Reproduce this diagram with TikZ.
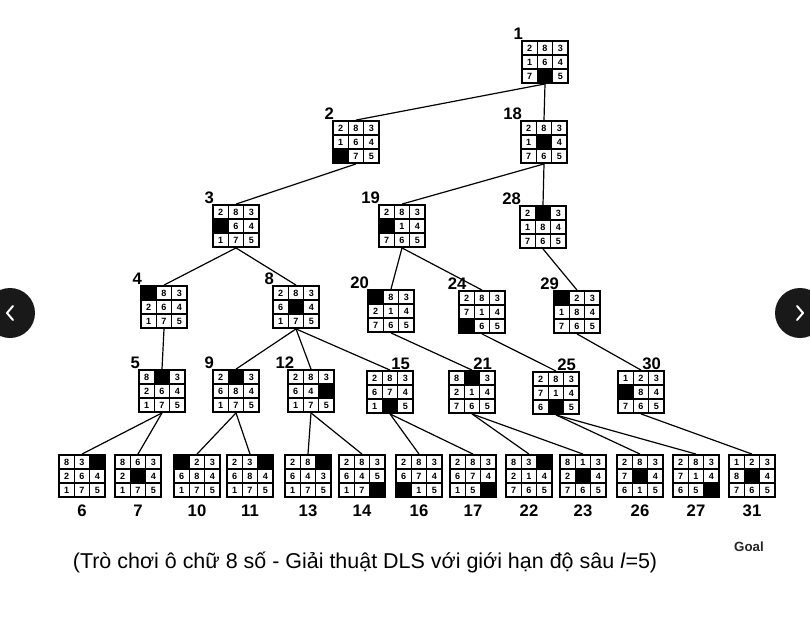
\documentclass[tikz,border=0pt]{standalone}
\usepackage{fontspec}
\setmainfont{Liberation Sans}
\usetikzlibrary{positioning, calc}

\newcommand{\tilefont}{\fontsize{6.8}{7}\selectfont\bfseries}
\newcommand{\numfont}{\fontsize{12.5}{14}\selectfont\bfseries}

% one 8-puzzle board: [extra options]{name}{position}{tiles, 0 = blank}
\newcommand{\puzzle}[4][]{%
  \node[board, #1] (#2) at (#3) {};
  \foreach \v [count=\k from 0] in {#4} {
    \pgfmathtruncatemacro{\tr}{div(\k,3)}
    \pgfmathtruncatemacro{\tc}{mod(\k,3)}
    \ifnum\v=0
      \node[hole, xshift={(\tc-1)*11.5pt}, yshift={(1-\tr)*10.5pt}] at (#2) {};
    \else
      \node[cell, xshift={(\tc-1)*11.5pt}, yshift={(1-\tr)*10.5pt}] at (#2) {\v};
    \fi
  }%
}

\begin{document}
\begin{tikzpicture}[
x=0.75pt, y=-0.75pt,
board/.style={draw, line width=1.4pt, fill=white, minimum width=34.5pt, minimum height=31.5pt, inner sep=0pt},
cell/.style={draw, line width=0.9pt, minimum width=11.5pt, minimum height=10.5pt, inner sep=0pt, font=\tilefont},
hole/.style={cell, fill=black},
lbl/.style={font=\numfont, inner sep=0pt},
rlbl/.style={lbl, xshift=8pt},
blbl/.style={lbl, yshift=-5pt},
edge/.style={line width=0.9pt}
]
\fill[white] (0,0) rectangle (810,617);
\useasboundingbox (0,0) rectangle (810,617);

% levels 0-4
\puzzle[label={[lbl]above left:1}]{n1}{545,62}{2,8,3,1,6,4,7,0,5}
\puzzle[label={[lbl]above left:2}]{n2}{356,142}{2,8,3,1,6,4,0,7,5}
\puzzle[label={[lbl]above left:18}]{n18}{544,142}{2,8,3,1,0,4,7,6,5}
\puzzle[label={[lbl]above left:3}]{n3}{236,226}{2,8,3,0,6,4,1,7,5}
\puzzle[label={[lbl]above left:19}]{n19}{402,226}{2,8,3,0,1,4,7,6,5}
\puzzle[label={[lbl]above left:28}]{n28}{543,227}{2,0,3,1,8,4,7,6,5}
\puzzle[label={[lbl]above left:4}]{n4}{164,307}{0,8,3,2,6,4,1,7,5}
\puzzle[label={[lbl]above left:8}]{n8}{296,307}{2,8,3,6,0,4,1,7,5}
\puzzle[label={[lbl]above left:20}]{n20}{391,311}{0,8,3,2,1,4,7,6,5}
\puzzle[label={[lbl,xshift=5pt]above left:24}]{n24}{482,312}{2,8,3,7,1,4,0,6,5}
\puzzle[label={[lbl,xshift=3pt]above left:29}]{n29}{577,312}{0,2,3,1,8,4,7,6,5}
\puzzle[label={[lbl]above left:5}]{n5}{162,391}{8,0,3,2,6,4,1,7,5}
\puzzle[label={[lbl]above left:9}]{n9}{236,391}{2,0,3,6,8,4,1,7,5}
\puzzle[label={[lbl,xshift=4pt]above left:12}]{n12}{311,391}{2,8,3,6,4,0,1,7,5}
\puzzle[label={[rlbl]above:15}]{n15}{390,392}{2,8,3,6,7,4,1,0,5}
\puzzle[label={[rlbl]above:21}]{n21}{472,392}{8,0,3,2,1,4,7,6,5}
\puzzle[label={[rlbl]above:25}]{n25}{556,393}{2,8,3,7,1,4,6,0,5}
\puzzle[label={[rlbl]above:30}]{n30}{641,392}{1,2,3,0,8,4,7,6,5}

% level 5
\puzzle[label={[blbl]below:6}]{n6}{82,476}{8,3,0,2,6,4,1,7,5}
\puzzle[label={[blbl]below:7}]{n7}{138,476}{8,6,3,2,0,4,1,7,5}
\puzzle[label={[blbl]below:10}]{n10}{197,476}{0,2,3,6,8,4,1,7,5}
\puzzle[label={[blbl]below:11}]{n11}{250,476}{2,3,0,6,8,4,1,7,5}
\puzzle[label={[blbl]below:13}]{n13}{308,476}{2,8,0,6,4,3,1,7,5}
\puzzle[label={[blbl]below:14}]{n14}{362,476}{2,8,3,6,4,5,1,7,0}
\puzzle[label={[blbl]below:16}]{n16}{419,476}{2,8,3,6,7,4,0,1,5}
\puzzle[label={[blbl]below:17}]{n17}{473,476}{2,8,3,6,7,4,1,5,0}
\puzzle[label={[blbl]below:22}]{n22}{529,476}{8,3,0,2,1,4,7,6,5}
\puzzle[label={[blbl]below:23}]{n23}{583,476}{8,1,3,2,0,4,7,6,5}
\puzzle[label={[blbl]below:26}]{n26}{640,476}{2,8,3,7,0,4,6,1,5}
\puzzle[label={[blbl]below:27}]{n27}{696,476}{2,8,3,7,1,4,6,5,0}
\puzzle[label={[blbl]below:31}]{n31}{752,476}{1,2,3,8,0,4,7,6,5}

\draw[edge] (n1.south)--(n2.north);
\draw[edge] (n1.south)--(n18.north);
\draw[edge] (n2.south)--(n3.north);
\draw[edge] (n3.south)--(n4.north);
\draw[edge] (n3.south)--(n8.north);
\draw[edge] (n4.south)--(n5.north);
\draw[edge] (n5.south)--(n6.north);
\draw[edge] (n5.south)--(n7.north);
\draw[edge] (n8.south)--(n9.north);
\draw[edge] (n8.south)--(n12.north);
\draw[edge] (n8.south)--(n15.north);
\draw[edge] (n9.south)--(n10.north);
\draw[edge] (n9.south)--(n11.north);
\draw[edge] (n12.south)--(n13.north);
\draw[edge] (n12.south)--(n14.north);
\draw[edge] (n15.south)--(n16.north);
\draw[edge] (n15.south)--(n17.north);
\draw[edge] (n18.south)--(n19.north);
\draw[edge] (n18.south)--(n28.north);
\draw[edge] (n19.south)--(n20.north);
\draw[edge] (n19.south)--(n24.north);
\draw[edge] (n20.south)--(n21.north);
\draw[edge] (n21.south)--(n22.north);
\draw[edge] (n21.south)--(n23.north);
\draw[edge] (n24.south)--(n25.north);
\draw[edge] (n25.south)--(n26.north);
\draw[edge] (n25.south)--(n27.north);
\draw[edge] (n28.south)--(n29.north);
\draw[edge] (n29.south)--(n30.north);
\draw[edge] (n30.south)--(n31.north);

\node[font=\fontsize{10}{12}\selectfont\bfseries, text=black!85] (goal) at (749,547) {Goal};
\node[font=\fontsize{16.1}{19}\selectfont] (caption) at (365,562)
  {(Trò chơi ô chữ 8 số - Giải thuật DLS với giới hạn độ sâu \textit{l}=5)};

% slider buttons
\fill[black!90] (10,313) circle[radius=18.75pt];
\fill[black!90] (800,313) circle[radius=18.75pt];
\draw[white, line width=1.5pt, line cap=round, line join=round] (13,306)--(7,313)--(13,320);
\draw[white, line width=1.5pt, line cap=round, line join=round] (797,306)--(803,313)--(797,320);
\end{tikzpicture}
\end{document}
